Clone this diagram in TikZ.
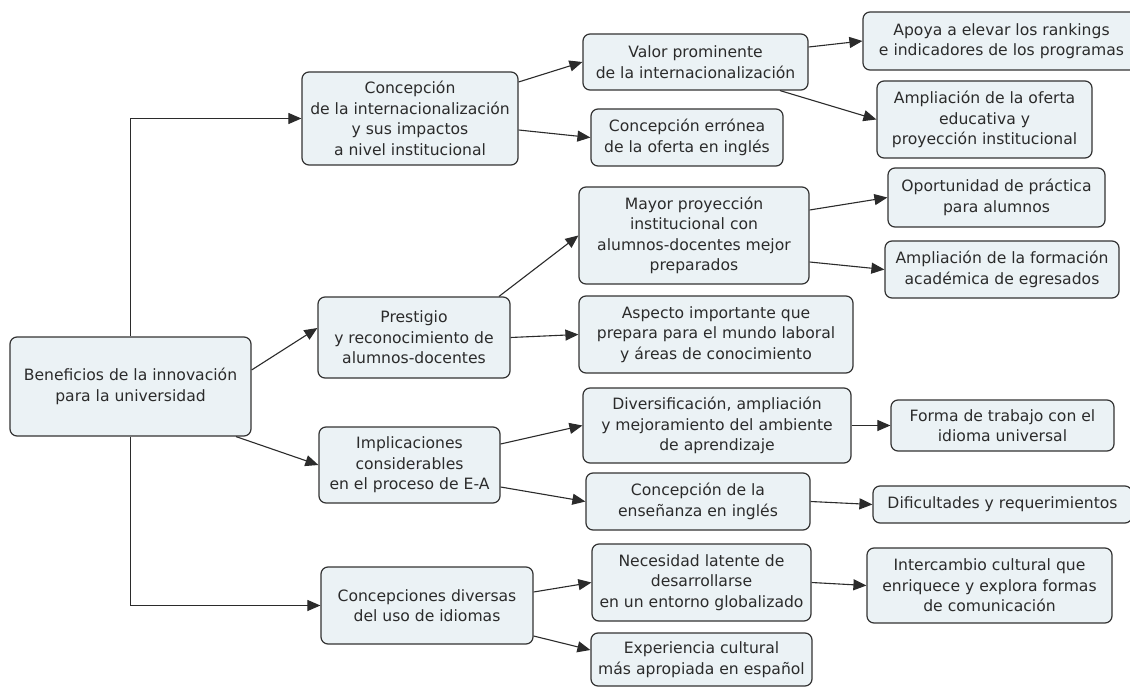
\documentclass[tikz,border=0pt]{standalone}
\usepackage{fontspec}
\setmainfont{DejaVu Sans}
\usetikzlibrary{arrows.meta}
\definecolor{boxfill}{HTML}{EBF2F5}
\definecolor{boxline}{HTML}{333333}
\definecolor{txt}{HTML}{2B2B2B}
\definecolor{lc}{HTML}{2B2B2B}
\tikzset{
  box/.style={draw=boxline, fill=boxfill, rounded corners=7pt, line width=1.2pt,
    align=center, inner sep=2pt, text=txt, font=\fontsize{15.6}{20.5}\selectfont},
  conn/.style={draw=lc, line width=1.1pt, -{Triangle[length=13pt,width=11pt]}}
}
\begin{document}
\begin{tikzpicture}[x=1pt,y=-1pt]
\useasboundingbox (0,0) rectangle (1130,687);
\fill[white] (0,0) rectangle (1130,687);

\node[box, minimum width=241pt, minimum height=99pt] (root) at (130.5,386.5) {Beneficios de la innovación\\para la universidad};

\node[box, minimum width=216pt, minimum height=93pt] (A1) at (410,118.5) {Concepción\\de la internacionalización\\y sus impactos\\a nivel institucional};
\node[box, minimum width=225pt, minimum height=56pt] (A2) at (695.5,62) {Valor prominente\\de la internacionalización};
\node[box, minimum width=192pt, minimum height=57pt] (A3) at (687,137.5) {Concepción errónea\\de la oferta en inglés};
\node[box, minimum width=277pt, minimum height=58pt] (A4) at (1001.5,41) {Apoya a elevar los rankings\\e indicadores de los programas};
\node[box, minimum width=215pt, minimum height=77pt] (A5) at (984.5,119.5) {Ampliación de la oferta\\educativa y\\proyección institucional};

\node[box, minimum width=192pt, minimum height=81pt] (B) at (414,337.5) {Prestigio\\y reconocimiento de\\alumnos-docentes};
\node[box, minimum width=230pt, minimum height=97pt] (B1) at (694,235.5) {Mayor proyección\\institucional con\\alumnos-docentes mejor\\preparados};
\node[box, minimum width=274pt, minimum height=77pt] (B4) at (716,334.5) {Aspecto importante que\\prepara para el mundo laboral\\y áreas de conocimiento};
\node[box, minimum width=217pt, minimum height=59pt] (B2) at (996.5,197.5) {Oportunidad de práctica\\para alumnos};
\node[box, minimum width=234pt, minimum height=57pt] (B3) at (1002,269.5) {Ampliación de la formación\\académica de egresados};

\node[box, minimum width=181pt, minimum height=76pt] (C) at (409.5,465) {Implicaciones\\considerables\\en el proceso de E-A};
\node[box, minimum width=268pt, minimum height=75pt] (C1) at (717,425.5) {Diversificación, ampliación\\y mejoramiento del ambiente\\de aprendizaje};
\node[box, minimum width=224pt, minimum height=57pt] (C2) at (698,501.5) {Concepción de la\\enseñanza en inglés};
\node[box, minimum width=223pt, minimum height=51pt] (C3) at (1002.5,425.5) {Forma de trabajo con el\\idioma universal};
\node[box, minimum width=259pt, minimum height=37pt] (C4) at (1002.5,504.5) {Dificultades y requerimientos};

\node[box, minimum width=212pt, minimum height=77pt] (D) at (427,605.5) {Concepciones diversas\\del uso de idiomas};
\node[box, minimum width=219pt, minimum height=77pt] (D1) at (701.5,582.5) {Necesidad latente de\\desarrollarse\\en un entorno globalizado};
\node[box, minimum width=221pt, minimum height=53pt] (D2) at (701.5,659.5) {Experiencia cultural\\más apropiada en español};
\node[box, minimum width=245pt, minimum height=75pt] (D3) at (989.5,585.5) {Intercambio cultural que\\enriquece y explora formas\\de comunicación};

% bracket connectors
\draw[conn] (root.north) |- (A1.west);
\draw[conn] (root.south) |- (D.west);
% root to B, C
\draw[conn] ([yshift=16.5pt]root.east) -- ([yshift=9.5pt]B.west);
\draw[conn] ([xshift=105.5pt]root.south) -- (C.west);
% A branch
\draw[conn] ([yshift=36.5pt]A1.east) -- (A2.west);
\draw[conn] ([yshift=-11.5pt]A1.east) -- (A3.west);
\draw[conn] ([yshift=15pt]A2.east) -- (A4.west);
\draw[conn] ([xshift=84.5pt]A2.south) -- (A5.west);
% B branch
\draw[conn] ([xshift=85pt]B.north) -- (B1.west);
\draw[conn] (B.east) -- (B4.west);
\draw[conn] ([yshift=25.5pt]B1.east) -- (B2.west);
\draw[conn] ([yshift=-26.5pt]B1.east) -- (B3.west);
% C branch
\draw[conn] ([yshift=21pt]C.east) -- (C1.west);
\draw[conn] ([yshift=-22pt]C.east) -- (C2.west);
\draw[conn] (C1.east) -- (C3.west);
\draw[conn] (C2.east) -- (C4.west);
% D branch
\draw[conn] ([yshift=13.5pt]D.east) -- (D1.west);
\draw[conn] ([yshift=-30.5pt]D.east) -- ([yshift=9.5pt]D2.west);
\draw[conn] (D1.east) -- (D3.west);
\end{tikzpicture}
\end{document}
